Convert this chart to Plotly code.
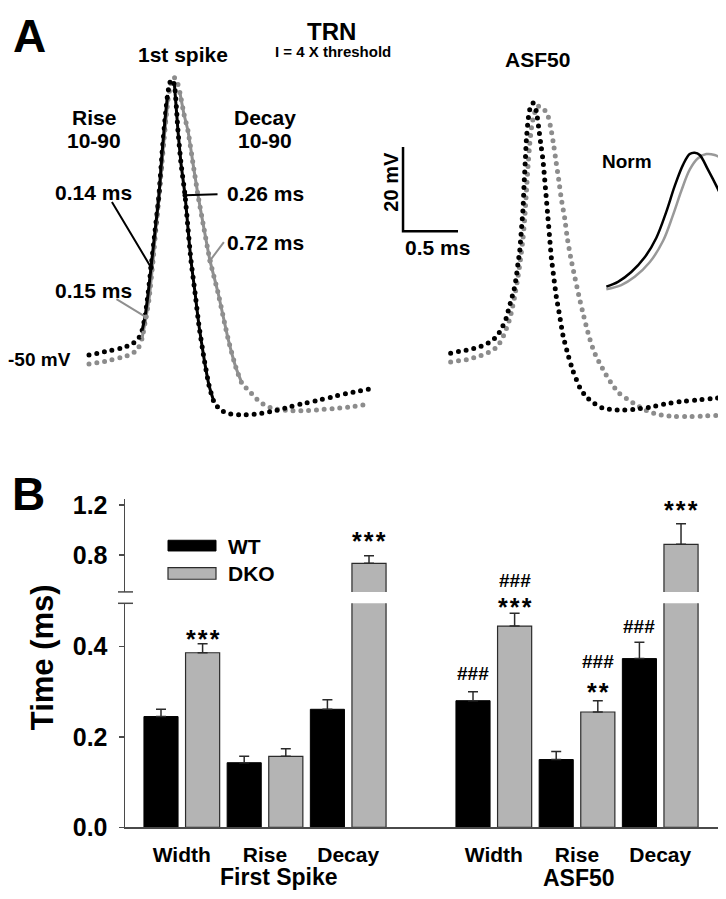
import plotly.graph_objects as go

W, H = 726, 899
FONT = "Liberation Sans, Arial, Helvetica, sans-serif"
BLACK = "#000000"
GREY_DOT = "#8c8c8c"
GREY_LINE = "#8f8f8f"
GREY_BAR = "#b4b4b4"
AXIS = "#4a4a4a"

# ---------------- Panel A: spike waveforms (time in ms, membrane potential in mV) ----------------
# First spike, WT (black)
WT1_T = [0.000, 0.145, 0.291, 0.382, 0.445, 0.482, 0.509, 0.536, 0.564, 0.600, 0.636, 0.664, 0.691,
         0.714, 0.736, 0.755, 0.777, 0.809, 0.836, 0.873, 0.900, 0.927, 0.964, 1.000, 1.045, 1.091,
         1.136, 1.191, 1.264, 1.382, 1.536, 1.682, 1.827, 1.973, 2.109, 2.255, 2.400, 2.545]
WT1_V = [-50.00, -49.19, -48.38, -47.46, -46.30, -44.23, -40.99, -35.68, -29.21, -20.67, -12.12, -2.19,
         5.89, 11.66, 14.67, 15.36, 13.97, 3.12, -4.50, -12.12, -19.98, -27.60, -35.22, -43.07, -50.69,
         -57.16, -61.09, -62.93, -63.86, -64.16, -63.93, -63.23, -62.24, -61.32, -60.55, -59.63, -58.78,
         -58.08]
# First spike, DKO (grey)
DKO1_T = [0.000, 0.152, 0.294, 0.370, 0.439, 0.482, 0.518, 0.545, 0.582, 0.618, 0.655, 0.691, 0.718,
          0.745, 0.773, 0.800, 0.827, 0.864, 0.900, 0.945, 0.991, 1.045, 1.100, 1.173, 1.264, 1.336,
          1.391, 1.461, 1.527, 1.597, 1.673, 1.815, 1.955, 2.097, 2.248, 2.391, 2.536]
DKO1_V = [-52.08, -51.45, -50.53, -49.93, -48.78, -46.07, -40.99, -36.84, -27.60, -17.21, -6.81, 3.58,
          10.51, 14.44, 15.82, 14.90, 12.12, 7.04, 3.12, -4.50, -12.12, -19.98, -27.60, -35.22, -46.07,
          -53.00, -56.70, -58.61, -60.46, -61.85, -62.63, -63.16, -63.16, -62.93, -62.63, -62.24, -61.62]
# ASF50 spike, WT (black)
WT2_T = [0.006, 0.079, 0.155, 0.225, 0.300, 0.366, 0.430, 0.466, 0.497, 0.518, 0.536, 0.557, 0.582,
         0.603, 0.618, 0.634, 0.648, 0.664, 0.673, 0.685, 0.694, 0.709, 0.725, 0.755, 0.785, 0.806,
         0.825, 0.845, 0.861, 0.876, 0.891, 0.906, 0.921, 0.943, 0.966, 0.997, 1.027, 1.073, 1.118,
         1.179, 1.239, 1.315, 1.391, 1.452, 1.521, 1.588, 1.664, 1.806, 1.945, 2.091, 2.234, 2.382, 2.527]
WT2_V = [-49.54, -49.15, -48.78, -48.38, -47.76, -46.84, -45.45, -43.76, -42.22, -40.69, -38.75, -36.84,
         -34.53, -31.45, -28.29, -25.29, -20.67, -15.29, -9.82, -3.74, 0.88, 5.50, 8.20, 9.75, 7.81, 3.97,
         0.12, -3.74, -8.36, -12.98, -17.60, -22.22, -26.84, -31.45, -36.07, -40.69, -45.31, -49.93,
         -53.76, -57.62, -59.93, -61.48, -62.63, -62.86, -63.00, -63.00, -62.86, -62.40, -61.62, -61.02,
         -60.69, -60.32, -59.93]
# ASF50 spike, DKO (grey)
DKO2_T = [0.006, 0.079, 0.155, 0.225, 0.300, 0.366, 0.430, 0.482, 0.512, 0.543, 0.564, 0.588, 0.618,
          0.643, 0.664, 0.679, 0.694, 0.709, 0.725, 0.745, 0.770, 0.800, 0.845, 0.891, 0.921, 0.945,
          0.966, 0.988, 1.012, 1.043, 1.066, 1.097, 1.134, 1.173, 1.215, 1.261, 1.309, 1.364, 1.418,
          1.473, 1.536, 1.618, 1.694, 1.764, 1.836, 1.906, 1.975, 2.052, 2.194, 2.339, 2.482, 2.557]
DKO2_V = [-51.62, -51.32, -51.09, -50.53, -49.93, -49.15, -47.99, -45.68, -43.76, -41.45, -39.15, -36.07,
          -31.45, -26.84, -22.22, -17.60, -11.43, -5.27, 0.12, 4.73, 7.44, 8.96, 8.59, 6.65, 3.19, -0.65,
          -4.50, -8.36, -12.98, -17.60, -22.22, -26.84, -31.45, -36.07, -40.69, -45.31, -49.15, -52.08,
          -54.62, -56.93, -59.01, -60.55, -61.85, -62.86, -63.63, -64.16, -64.39, -64.55, -64.55, -64.39,
          -64.25, -64.16]
# Normalized ASF50 rising phase (inset "Norm")
NWT_T = [0.003, 0.109, 0.230, 0.352, 0.457, 0.548, 0.625, 0.700, 0.761, 0.806, 0.852, 0.927, 1.018, 1.094]
NWT_V = [0.002, 0.038, 0.111, 0.220, 0.364, 0.558, 0.751, 0.908, 0.988, 0.998, 0.981, 0.872, 0.727, 0.594]
NDKO_T = [0.003, 0.139, 0.261, 0.397, 0.518, 0.609, 0.685, 0.761, 0.836, 0.912, 0.988, 1.079, 1.155]
NDKO_V = [-0.017, 0.014, 0.075, 0.183, 0.341, 0.534, 0.715, 0.872, 0.957, 0.988, 0.981, 0.944, 0.908]

# 10-90 % segments (index ranges into the first-spike arrays)
WT1_RISE = (5, 14)
WT1_DECAY = (16, 27)
DKO1_RISE = (5, 13)
DKO1_DECAY = (16, 27)
# measured example values and the sample index they point at
CALLOUTS = [  # (series, index, label)
    ("WT", 8, "0.14 ms"),
    ("WT", 19, "0.26 ms"),
    ("DKO", 22, "0.72 ms"),
    ("DKO", 6, "0.15 ms"),
]
SCALE_MV = 20
SCALE_MS = 0.5

# ---------------- Panel B: bar data (ms) ----------------
CATEGORIES = ["Width", "Rise", "Decay"]
GROUPS = ["First Spike", "ASF50"]
WT_MEAN = [0.245, 0.143, 0.261, 0.280, 0.150, 0.373]
WT_SEM = [0.016, 0.014, 0.021, 0.020, 0.018, 0.036]
DKO_MEAN = [0.386, 0.157, 0.735, 0.445, 0.255, 0.886]
DKO_SEM = [0.020, 0.017, 0.060, 0.028, 0.025, 0.164]
# significance marks: (bar index, series, lines of text from top)
SIG = [
    (0, "DKO", ["***"]),
    (2, "DKO", ["***"]),
    (3, "WT", ["###"]),
    (3, "DKO", ["###", "***"]),
    (4, "DKO", ["###", "**"]),
    (5, "WT", ["###"]),
    (5, "DKO", ["***"]),
]

# ---------------- layout helpers ----------------
def PX(x):
    return x / W


def PY(y):
    return 1 - y / H


POS = [0.5, 2.5, 4.5, 8.0, 10.0, 12.0]   # pair centres on the bar axis

fig = go.Figure()


def line_trace(t, v, color, width, xa, ya, dotted=False, smooth=0.5):
    fig.add_trace(go.Scatter(
        x=t, y=v, mode="lines", xaxis=xa, yaxis=ya, hoverinfo="skip", showlegend=False,
        line=dict(color=color, width=width, dash="4px,3.8px" if dotted else "solid",
                  shape="spline", smoothing=smooth)))


# dotted traces
line_trace(DKO1_T, DKO1_V, GREY_DOT, 5, "x3", "y3", dotted=True)
line_trace(WT1_T, WT1_V, BLACK, 5, "x3", "y3", dotted=True)
line_trace(DKO2_T, DKO2_V, GREY_DOT, 5, "x4", "y3", dotted=True)
line_trace(WT2_T, WT2_V, BLACK, 5, "x4", "y3", dotted=True)
# solid 10-90 segments
a, b = DKO1_RISE
line_trace(DKO1_T[a:b], DKO1_V[a:b], GREY_LINE, 3, "x3", "y3")
a, b = DKO1_DECAY
line_trace(DKO1_T[a:b], DKO1_V[a:b], GREY_LINE, 3, "x3", "y3")
a, b = WT1_RISE
line_trace(WT1_T[a:b], WT1_V[a:b], BLACK, 3, "x3", "y3")
a, b = WT1_DECAY
line_trace(WT1_T[a:b], WT1_V[a:b], BLACK, 3, "x3", "y3")
# normalized inset
line_trace(NDKO_T, NDKO_V, "#999999", 2.5, "x5", "y5", smooth=1.0)
line_trace(NWT_T, NWT_V, BLACK, 2.5, "x5", "y5", smooth=1.0)

# callout dots
for ser, idx, lab in CALLOUTS:
    t = WT1_T if ser == "WT" else DKO1_T
    v = WT1_V if ser == "WT" else DKO1_V
    fig.add_trace(go.Scatter(x=[t[idx]], y=[v[idx]], mode="markers", xaxis="x3", yaxis="y3",
                             marker=dict(size=5, color=BLACK if ser == "WT" else GREY_LINE),
                             hoverinfo="skip", showlegend=False))

# bars on both halves of the broken axis
for ya in ["y", "y2"]:
    fig.add_trace(go.Bar(
        x=POS, y=WT_MEAN, xaxis="x", yaxis=ya, name="WT", offsetgroup="wt", showlegend=False,
        marker=dict(color=BLACK, line=dict(color=BLACK, width=1)),
        error_y=dict(type="data", array=WT_SEM, arrayminus=[0] * len(WT_SEM), symmetric=False,
                     color="#2b2b2b", thickness=1.5, width=5)))
    fig.add_trace(go.Bar(
        x=POS, y=DKO_MEAN, xaxis="x", yaxis=ya, name="DKO", offsetgroup="dko", showlegend=False,
        marker=dict(color=GREY_BAR, line=dict(color="#2b2b2b", width=1.2)),
        error_y=dict(type="data", array=DKO_SEM, arrayminus=[0] * len(DKO_SEM), symmetric=False,
                     color="#2b2b2b", thickness=1.5, width=5)))

ann = []


def txt(s, x, y, size, angle=0, xanchor="center", color=BLACK):
    ann.append(dict(text=s, x=PX(x), y=PY(y), xref="paper", yref="paper", showarrow=False,
                    xanchor=xanchor, yanchor="middle", textangle=angle,
                    font=dict(family=FONT, size=size, color=color, weight="bold")))


# Panel A texts
txt("A", 21, 20, 46)
txt("TRN", 323, 15, 24)
txt("I = 4 X threshold", 325, 35, 15)
txt("1st spike", 175, 38, 21)
txt("ASF50", 529, 44, 21)
txt("Rise", 86, 103, 21)
txt("10-90", 86, 127, 21)
txt("Decay", 257, 103, 21)
txt("10-90", 257, 127, 21)
label_pos = {"0.14 ms": (85, 180), "0.26 ms": (257, 181), "0.72 ms": (257, 231), "0.15 ms": (85, 281)}
arrow_off = {"0.14 ms": (-40, -67), "0.26 ms": (34, -1), "0.72 ms": (15, -20), "0.15 ms": (-31, -19)}
for ser, idx, lab in CALLOUTS:
    txt(lab, *label_pos[lab], 21)
    t = WT1_T if ser == "WT" else DKO1_T
    v = WT1_V if ser == "WT" else DKO1_V
    ax, ay = arrow_off[lab]
    ann.append(dict(text="", x=t[idx], y=v[idx], xref="x3", yref="y3", showarrow=True,
                    ax=ax, ay=ay, arrowhead=0, arrowwidth=2,
                    arrowcolor=BLACK if ser == "WT" else GREY_LINE))
txt("-50 mV", 31, 351, 19)
txt("Norm", 619, 148, 19)
txt("20 mV", 383, 169, 20, angle=-90)
txt("0.5 ms", 429, 237, 21)

# Panel B texts
txt("B", 20, 490, 46)
txt("Time (ms)", 34, 657, 31, angle=-90)
txt("WT", 218, 543, 21, xanchor="left")
txt("DKO", 218, 571, 21, xanchor="left")
txt(GROUPS[0], 271, 883, 23)
txt(GROUPS[1], 571, 884, 23)

# significance marks (paper y of each line centre)
sig_y = {(0, "DKO"): [636], (2, "DKO"): [536], (3, "WT"): [674], (3, "DKO"): [578, 603],
         (4, "DKO"): [661, 691], (5, "WT"): [625], (5, "DKO"): [504]}
for i, ser, lines in SIG:
    xb = POS[i] - 0.5 if ser == "WT" else POS[i] + 0.5
    for s, yy in zip(lines, sig_y[(i, ser)]):
        star = s.startswith("*")
        s2 = "\u200a".join(list(s)) if star else s
        ann.append(dict(text=s2, x=xb, y=PY(yy + (2 if star else 0)), xref="x", yref="paper",
                        showarrow=False, xanchor="center", yanchor="middle",
                        font=dict(family=FONT, size=25 if star else 19, color=BLACK, weight="bold")))

shapes = [
    # scale bar
    dict(type="path", xref="x4", yref="y3",
         path=f"M {-0.427},{-20.67 + SCALE_MV} L {-0.427},{-20.67} L {-0.427 + SCALE_MS},{-20.67}",
         line=dict(color=BLACK, width=2.5)),
    # legend keys
    dict(type="rect", xref="paper", yref="paper", x0=PX(160), x1=PX(208), y0=PY(548), y1=PY(537),
         fillcolor=BLACK, line=dict(color=BLACK, width=1)),
    dict(type="rect", xref="paper", yref="paper", x0=PX(160), x1=PX(208), y0=PY(577), y1=PY(565),
         fillcolor=GREY_BAR, line=dict(color="#2b2b2b", width=1.2)),
    # axis break marks
    dict(type="line", xref="paper", yref="paper", x0=PX(110), x1=PX(125), y0=PY(590), y1=PY(590),
         line=dict(color=AXIS, width=1.5)),
    dict(type="line", xref="paper", yref="paper", x0=PX(110), x1=PX(125), y0=PY(601.7), y1=PY(601.7),
         line=dict(color=AXIS, width=1.5)),
]

hidden = dict(visible=False, showgrid=False, zeroline=False, fixedrange=True)
tickfont = dict(family=FONT, size=25, color=BLACK, weight="bold")

fig.update_layout(
    width=W, height=H, margin=dict(l=0, r=0, t=0, b=0),
    paper_bgcolor="white", plot_bgcolor="white", showlegend=False,
    barmode="group", bargap=0.0, bargroupgap=0.18,
    annotations=ann, shapes=shapes,
    xaxis=dict(domain=[PX(117), PX(710)], range=[-0.8654, 13.389], anchor="y",
               showline=True, linecolor=AXIS, linewidth=1.5, ticks="", showgrid=False, zeroline=False,
               tickvals=POS, ticktext=CATEGORIES * 2, ticklabelstandoff=8,
               tickfont=dict(family=FONT, size=21, color=BLACK, weight="bold")),
    yaxis=dict(domain=[PY(831.7), PY(601.7)], range=[0, 0.4952], anchor="x",
               showline=True, linecolor=AXIS, linewidth=1.5, ticks="outside", ticklen=5,
               tickwidth=1.5, tickcolor=AXIS, tickvals=[0, 0.2, 0.4], ticktext=["0.0", "0.2", "0.4"],
               tickfont=tickfont, showgrid=False, zeroline=False, ticklabelstandoff=6),
    yaxis2=dict(domain=[PY(590), PY(495)], range=[0.508, 1.244], anchor="x",
                showline=True, linecolor=AXIS, linewidth=1.5, ticks="outside", ticklen=5,
                tickwidth=1.5, tickcolor=AXIS, tickvals=[0.8, 1.2], ticktext=["0.8", "1.2"],
                tickfont=tickfont, showgrid=False, zeroline=False, ticklabelstandoff=6),
    xaxis3=dict(domain=[PX(40), PX(370)], range=[-0.3727, 2.6273], anchor="y3", **hidden),
    yaxis3=dict(domain=[PY(430), PY(40)], range=[-69.17, 20.90], anchor="x3", **hidden),
    xaxis4=dict(domain=[PX(370), 1.0], range=[-0.6545, 2.5818], anchor="y3", **hidden),
    xaxis5=dict(domain=[PX(590), 1.0], range=[-0.0727, 1.1636], anchor="y5", **hidden),
    yaxis5=dict(domain=[PY(290), PY(130)], range=[-0.0942, 1.0652], anchor="x5", **hidden),
)

post = """
var gd = document.getElementById('{plot_id}');
gd.querySelectorAll('path.js-line').forEach(function(p){
  var d = p.style.strokeDasharray || '';
  if (d.indexOf('3.8') >= 0) { p.style.strokeDasharray = '0 7.8'; p.style.strokeLinecap = 'round'; }
});
"""
fig.write_html("out.html", post_script=post, config={"staticPlot": True})
